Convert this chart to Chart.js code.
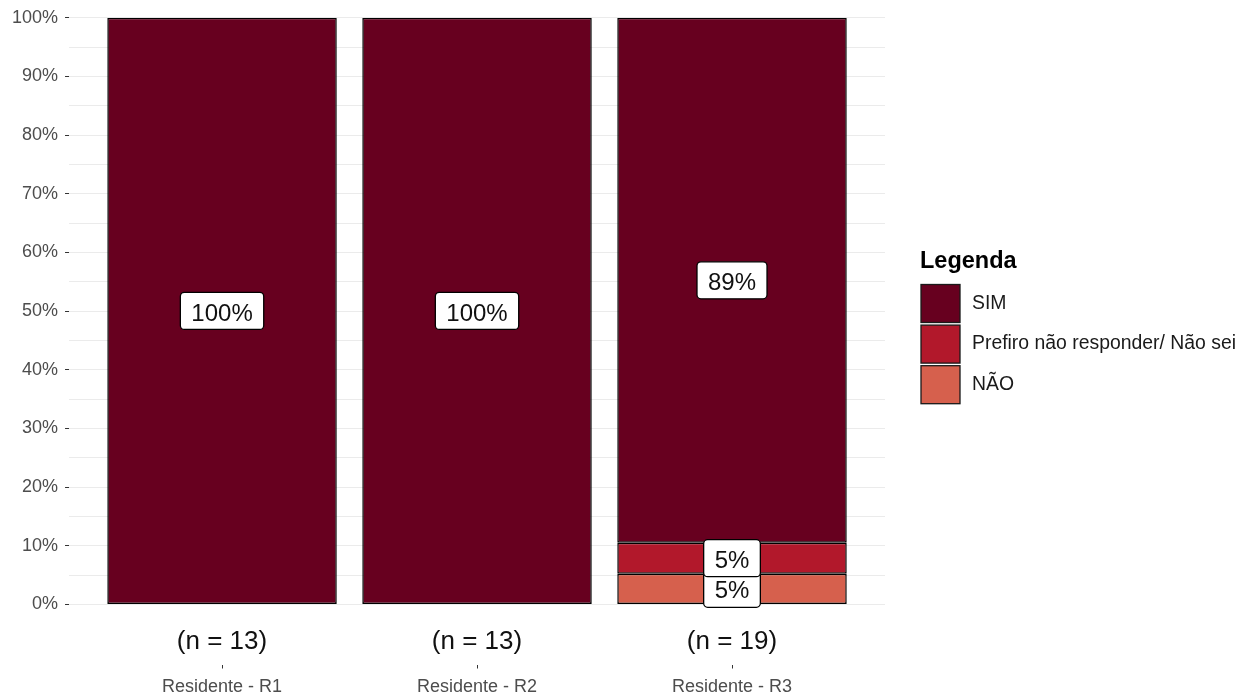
<!DOCTYPE html>
<html>
<head>
<meta charset="utf-8">
<script src="https://cdn.jsdelivr.net/npm/chart.js@4.4.1/dist/chart.umd.min.js"></script>
<style>
html, body { margin: 0; padding: 0; background: #ffffff; }
#wrap { width: 1250px; height: 700px; position: relative; }
</style>
</head>
<body>
<div id="wrap"><canvas id="c"></canvas></div>
<script>
// ---- data ----
const categories = ['Residente - R1', 'Residente - R2', 'Residente - R3'];
const nCounts = [13, 13, 19];
const seriesNames = ['NÃO', 'Prefiro não responder/ Não sei', 'SIM']; // bottom -> top
const naoValues = [0, 0, 5.26];
const prefiroValues = [0, 0, 5.26];
const simValues = [100, 100, 89.47];
const yTickValues = [0, 10, 20, 30, 40, 50, 60, 70, 80, 90, 100];
const legendTitle = 'Legenda';

// ---- style ----
const seriesColors = ['#D6604D', '#B2182B', '#67001F'];
const FONT = '"Liberation Sans", Arial, Helvetica, sans-serif';

const seriesValues = [naoValues, prefiroValues, simValues];
const datasets = seriesNames.map((name, d) => ({
  label: name,
  data: seriesValues[d].map((v, i) => ({ x: i, y: v })),
  backgroundColor: seriesColors[d],
  borderColor: '#000000',
  borderWidth: 1.5,
  borderSkipped: false,
  categoryPercentage: 1.0,
  barPercentage: 0.9
}));

const catTicks = (scale) => { scale.ticks = categories.map((c, i) => ({ value: i })); };

const barLabelPlugin = {
  id: 'barLabels',
  afterDatasetsDraw(chart) {
    const ctx = chart.ctx;
    ctx.save();
    ctx.font = '24px ' + FONT;
    chart.data.datasets.forEach((ds, d) => {
      const meta = chart.getDatasetMeta(d);
      meta.data.forEach((el, i) => {
        const v = ds.data[i].y;
        if (!v) return;
        const p = el.getProps(['x', 'y', 'base'], true);
        const cy = (p.y + p.base) / 2;
        const txt = Math.round(v) + '%';
        const tw = ctx.measureText(txt).width;
        const w = tw + 22, h = 37;
        const bx = p.x - w / 2, by = cy - h / 2;
        ctx.beginPath();
        if (ctx.roundRect) ctx.roundRect(bx, by, w, h, 4); else ctx.rect(bx, by, w, h);
        ctx.fillStyle = '#ffffff';
        ctx.fill();
        ctx.lineWidth = 1.3;
        ctx.strokeStyle = '#000000';
        ctx.stroke();
        ctx.fillStyle = '#111111';
        ctx.textAlign = 'center';
        ctx.textBaseline = 'middle';
        ctx.fillText(txt, p.x, cy + 3);
      });
    });
    ctx.restore();
  }
};

const legendPlugin = {
  id: 'customLegend',
  afterDraw(chart) {
    const ctx = chart.ctx;
    ctx.save();
    const lx = 921;
    ctx.font = 'bold 23.5px ' + FONT;
    ctx.fillStyle = '#000000';
    ctx.textAlign = 'left';
    ctx.textBaseline = 'middle';
    ctx.fillText(legendTitle, lx - 1, 262);
    const items = chart.data.datasets.map((ds, d) => ({ label: ds.label, color: ds.backgroundColor })).reverse();
    items.forEach((it, k) => {
      const by = 284.5 + k * 40.6;
      ctx.fillStyle = it.color;
      ctx.fillRect(lx, by, 39, 38);
      ctx.lineWidth = 1.3;
      ctx.strokeStyle = '#1a1a1a';
      ctx.strokeRect(lx, by, 39, 38);
      ctx.font = '19.4px ' + FONT;
      ctx.fillStyle = '#1a1a1a';
      ctx.fillText(it.label, 972, by + 19);
    });
    ctx.restore();
  }
};

new Chart(document.getElementById('c'), {
  type: 'bar',
  data: { datasets },
  plugins: [barLabelPlugin, legendPlugin],
  options: {
    responsive: true,
    maintainAspectRatio: false,
    animation: false,
    layout: { padding: { left: 5, right: 365, top: 3, bottom: -6.5 } },
    plugins: { legend: { display: false }, tooltip: { enabled: false } },
    scales: {
      x: {
        type: 'linear',
        position: 'bottom',
        stacked: true,
        min: -0.6,
        max: 2.6,
        offset: false,
        weight: 0,
        afterBuildTicks: catTicks,
        grid: { display: true, drawOnChartArea: false, drawTicks: true, tickLength: 14, tickColor: 'rgba(0,0,0,0)', offset: false },
        border: { display: false },
        ticks: {
          autoSkip: false,
          maxRotation: 0,
          padding: 7.4,
          color: '#111111',
          font: { family: FONT, size: 26, lineHeight: 1.2 },
          callback: (v) => '(n = ' + nCounts[v] + ')'
        }
      },
      xCat: {
        type: 'linear',
        position: 'bottom',
        axis: 'x',
        min: -0.6,
        max: 2.6,
        offset: false,
        weight: 1,
        afterBuildTicks: catTicks,
        grid: { display: true, drawOnChartArea: false, drawTicks: true, tickLength: 4, tickColor: '#333333', offset: false },
        border: { display: false },
        ticks: {
          autoSkip: false,
          maxRotation: 0,
          padding: 8.2,
          color: '#4D4D4D',
          font: { family: FONT, size: 18, lineHeight: 1.2 },
          callback: (v) => categories[v]
        }
      },
      y: {
        stacked: true,
        min: 0,
        max: 100,
        border: { display: false },
        afterBuildTicks: (scale) => {
          const t = [];
          yTickValues.forEach((v, k) => {
            t.push({ value: v });
            if (k < yTickValues.length - 1) t.push({ value: (v + yTickValues[k + 1]) / 2, minor: true });
          });
          scale.ticks = t;
        },
        grid: {
          color: '#EBEBEB',
          lineWidth: 1,
          tickLength: 4,
          tickColor: (c) => (yTickValues.includes(c.tick.value) ? '#333333' : 'rgba(0,0,0,0)')
        },
        ticks: {
          autoSkip: false,
          padding: 7,
          color: '#4D4D4D',
          font: { family: FONT, size: 18, lineHeight: 1.2 },
          callback: (v) => (yTickValues.includes(v) ? v + '%' : '')
        }
      }
    }
  }
});
</script>
</body>
</html>
